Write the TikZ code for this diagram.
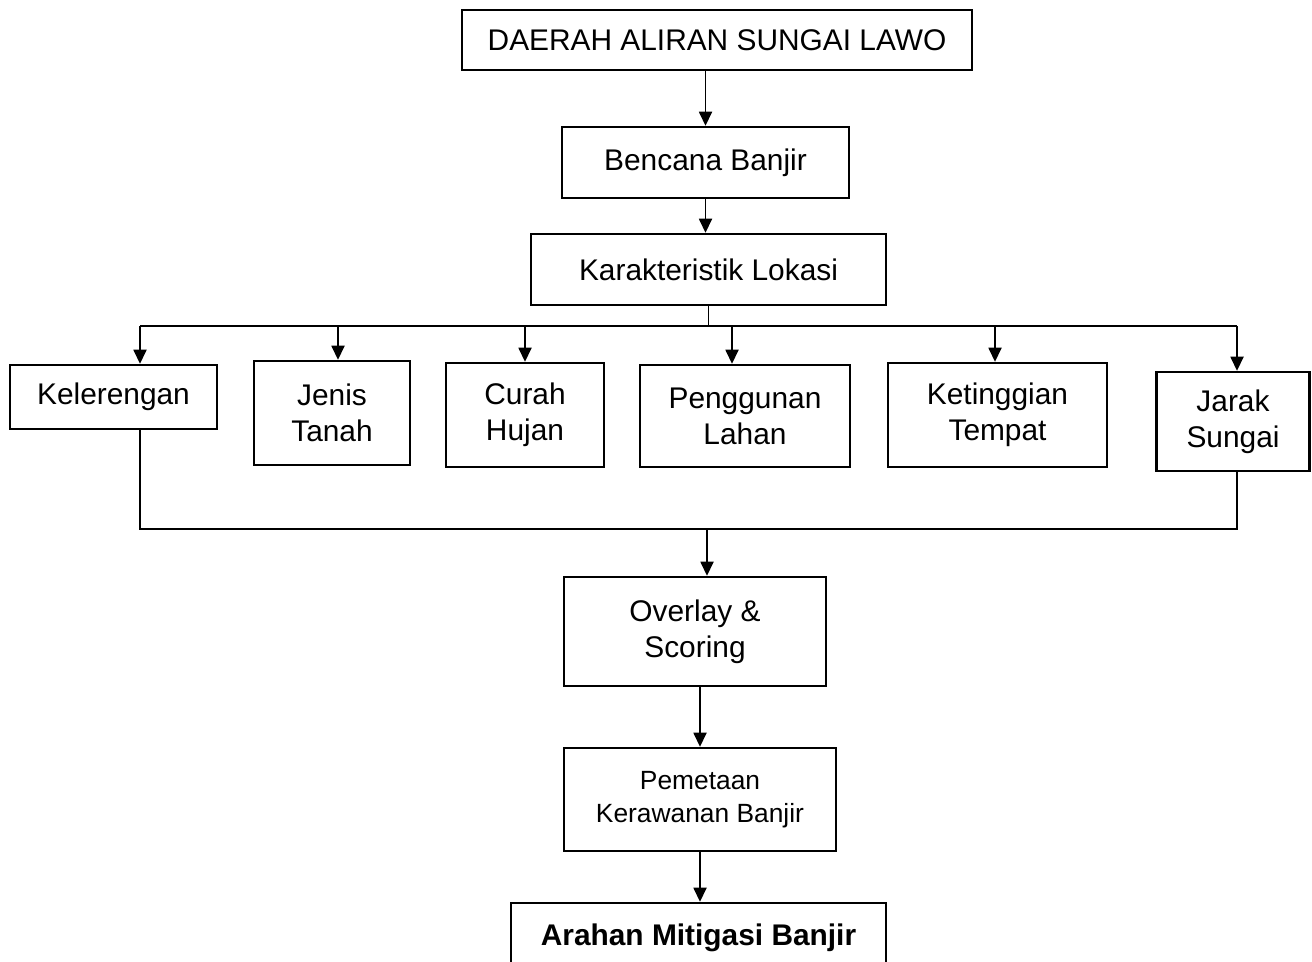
\documentclass[tikz,border=0pt]{standalone}
\usepackage{fontspec}
\setmainfont{Liberation Sans}
\usepackage{tikz}
\usetikzlibrary{arrows.meta, calc}
\tikzset{
  box/.style={draw=black, line width=1.4pt, align=center, inner sep=0pt,
              font=\fontsize{17}{20.5}\selectfont},
  boxs/.style={box, font=\fontsize{15}{18.5}\selectfont},
  arr/.style={-{Triangle[length=8pt, width=7.5pt]}, line width=0.7pt},
  lin/.style={line width=0.7pt},
}

\begin{document}
\begin{tikzpicture}[x=0.02cm, y=-0.02cm]
    \useasboundingbox (0,0) rectangle (1312,962);
    % top
    \node[box, minimum width=10.2cm, minimum height=1.2cm]  (das)    at (717,40)    {DAERAH ALIRAN SUNGAI LAWO};
    \node[box, minimum width=5.74cm, minimum height=1.42cm] (banjir) at (705.5,162.5) {Bencana Banjir};
    \node[box, minimum width=7.1cm, minimum height=1.42cm]  (karak)  at (708.5,269.5) {Karakteristik Lokasi};
    % parameters
    \node[box, minimum width=4.14cm, minimum height=1.28cm] (lereng) at (113.5,397) {Kelerengan};
    \node[box, minimum width=3.12cm, minimum height=2.08cm] (tanah)  at (332,413)   {Jenis\\Tanah};
    \node[box, minimum width=3.16cm, minimum height=2.08cm] (hujan)  at (525,415)   {Curah\\Hujan};
    \node[box, minimum width=4.2cm, minimum height=2.04cm]  (lahan)  at (745,416)   {Penggunan\\Lahan};
    \node[box, minimum width=4.38cm, minimum height=2.08cm] (tinggi) at (997.5,415) {Ketinggian\\Tempat};
    \node[box, minimum width=3.06cm, minimum height=1.98cm] (jarak)  at (1233,421.5) {Jarak\\Sungai};
    % analysis
    \node[box, minimum width=5.24cm, minimum height=2.18cm] (overlay) at (695,631.5) {Overlay \&\\Scoring};
    \node[boxs, minimum width=5.44cm, minimum height=2.06cm] (peta)   at (700,799.5) {Pemetaan\\Kerawanan Banjir};
    \node[box, minimum width=7.5cm, minimum height=1.4cm, font=\fontsize{17}{20.5}\selectfont\bfseries]
         (arahan) at (698.5,938) {Arahan Mitigasi Banjir};

    % branch points
    \coordinate (t1) at (140,326);
    \coordinate (t2) at (338,326);
    \coordinate (t3) at (525,326);
    \coordinate (t4) at (732,326);
    \coordinate (t5) at (995,326);
    \coordinate (t6) at (1237,326);
    \coordinate (b1) at (140,529);
    \coordinate (b6) at (1237,529);
    \coordinate (bm) at (707,529);

    \draw[arr] (das.south -| banjir.north) -- (banjir.north);
    \draw[arr] (banjir.south) -- (banjir.south |- karak.north);
    \draw[lin] (karak.south) -- (karak.south |- t1);
    \draw[lin] (t1) -- (t6);
    \draw[arr] (t1) -- (t1 |- lereng.north);
    \draw[arr] (t2) -- (t2 |- tanah.north);
    \draw[arr] (t3) -- (t3 |- hujan.north);
    \draw[arr] (t4) -- (t4 |- lahan.north);
    \draw[arr] (t5) -- (t5 |- tinggi.north);
    \draw[arr] (t6) -- (t6 |- jarak.north);
    \draw[lin] (lereng.south -| b1) -- (b1) -- (b6) -- (jarak.south -| b6);
    \draw[arr] (bm) -- (bm |- overlay.north);
    \draw[arr] (overlay.south -| peta.north) -- (peta.north);
    \draw[arr] (peta.south) -- (peta.south |- arahan.north);
\end{tikzpicture}
\end{document}
